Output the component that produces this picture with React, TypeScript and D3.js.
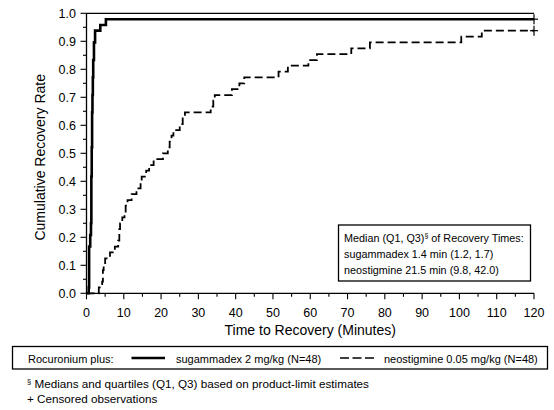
import * as d3 from "d3";

// Kaplan-Meier style cumulative recovery, steps
const sugTimes = [0.6, 0.7, 1.0, 1.2, 1.3, 1.4, 1.5, 1.6, 1.7, 1.8, 2.0, 2.3, 3.7, 5.2];
const sugRates = [0.021, 0.167, 0.208, 0.25, 0.417, 0.521, 0.646, 0.708, 0.771, 0.833, 0.896, 0.938, 0.958, 0.979];

const neoTimes = [
  3.3, 4.2, 4.4, 4.6, 5.0, 6.3, 7.6, 8.5, 8.8, 9.0, 9.6, 10.2, 10.5, 11.0, 12.1,
  13.4, 14.5, 14.8, 16.0, 16.8, 18.0, 20.5, 21.8, 22.3, 22.8, 23.3, 25.0, 25.8,
  26.4, 33.3, 34.0, 34.4, 39.0, 41.0, 42.3, 51.5, 54.0, 59.5, 61.8, 71.0, 76.0,
  100.5, 106.0,
];
const neoRates = [
  0.021, 0.042, 0.083, 0.104, 0.125, 0.146, 0.167, 0.188, 0.229, 0.25, 0.271,
  0.292, 0.313, 0.333, 0.354, 0.375, 0.396, 0.417, 0.438, 0.458, 0.479, 0.5,
  0.521, 0.542, 0.563, 0.583, 0.604, 0.625, 0.646, 0.667, 0.688, 0.708, 0.729,
  0.75, 0.771, 0.792, 0.813, 0.833, 0.854, 0.875, 0.896, 0.917, 0.938,
];

const censorTime = 120;

const xTicks = [0, 10, 20, 30, 40, 50, 60, 70, 80, 90, 100, 110, 120];
const xMinorTicks = [5, 15, 25, 35, 45, 55, 65, 75, 85, 95, 105, 115];
const yTicks = [0, 0.1, 0.2, 0.3, 0.4, 0.5, 0.6, 0.7, 0.8, 0.9, 1.0];
const yMinorTicks = [0.05, 0.15, 0.25, 0.35, 0.45, 0.55, 0.65, 0.75, 0.85, 0.95];

const statLines = [
  "sugammadex 1.4 min (1.2, 1.7)",
  "neostigmine 21.5 min (9.8, 42.0)",
];

const W = 554;
const H = 410;
const FONT = "Arial, 'Liberation Sans', sans-serif";

export default function App() {
  const x = d3.scaleLinear().domain([0, 120]).range([86.5, 534]);
  const y = d3.scaleLinear().domain([0, 1]).range([293.3, 13.3]);

  const toPoints = (times: number[], rates: number[]): [number, number][] => [
    [0, 0],
    ...times.map((t, i) => [t, rates[i]] as [number, number]),
    [censorTime, rates[rates.length - 1]],
  ];

  const line = d3
    .line<[number, number]>()
    .x((d) => x(d[0]))
    .y((d) => y(d[1]))
    .curve(d3.curveStepAfter);

  const sugPts = toPoints(sugTimes, sugRates);
  const neoPts = toPoints(neoTimes, neoRates);

  const censor = (v: number) => {
    const cx = x(censorTime);
    const cy = y(v);
    return (
      <g stroke="#000" strokeWidth={1.2}>
        <line x1={cx - 4} x2={cx + 4} y1={cy} y2={cy} />
        <line x1={cx} x2={cx} y1={cy - 5} y2={cy + 5} />
      </g>
    );
  };

  return (
    <svg
      width={W}
      height={H}
      style={{ position: "absolute", left: 0, top: 0, background: "#fff" }}
      fontFamily={FONT}
    >
      <rect width={W} height={H} fill="#fff" />

      {/* axes frame */}
      <g stroke="#000" strokeWidth={1.3} fill="none">
        <line x1={x(0)} x2={x(0)} y1={y(1)} y2={y(0)} />
        <line x1={x(0)} x2={x(120)} y1={y(0)} y2={y(0)} />
        <line x1={x(0)} x2={x(120)} y1={y(1)} y2={y(1)} />
      </g>

      {/* y ticks */}
      <g stroke="#000" strokeWidth={1.1}>
        {yTicks.map((t) => (
          <line key={t} x1={x(0) - 6} x2={x(0)} y1={y(t)} y2={y(t)} />
        ))}
        {yMinorTicks.map((t) => (
          <line key={t} x1={x(0) - 3.5} x2={x(0)} y1={y(t)} y2={y(t)} />
        ))}
      </g>
      <g fontSize={12.5} textAnchor="end" fill="#000">
        {yTicks.map((t) => (
          <text key={t} x={76} y={y(t)} dy="0.36em">
            {d3.format(".1f")(t)}
          </text>
        ))}
      </g>

      {/* x ticks */}
      <g stroke="#000" strokeWidth={1.1}>
        {xTicks.map((t) => (
          <line key={t} x1={x(t)} x2={x(t)} y1={y(0)} y2={y(0) + 6} />
        ))}
        {xMinorTicks.map((t) => (
          <line key={t} x1={x(t)} x2={x(t)} y1={y(0)} y2={y(0) + 3.5} />
        ))}
      </g>
      <g fontSize={12.5} textAnchor="middle" fill="#000">
        {xTicks.map((t) => (
          <text key={t} x={x(t)} y={316.5}>
            {t}
          </text>
        ))}
      </g>

      <text x={(x(0) + x(120)) / 2} y={335} fontSize={14} textAnchor="middle">
        Time to Recovery (Minutes)
      </text>
      <text
        transform={`translate(45,${(y(0) + y(1)) / 2 + 4}) rotate(-90)`}
        fontSize={14}
        textAnchor="middle"
      >
        Cumulative Recovery Rate
      </text>

      {/* curves */}
      <path d={line(neoPts) ?? ""} fill="none" stroke="#000" strokeWidth={1.8} strokeDasharray="8,4" />
      <path d={line(sugPts) ?? ""} fill="none" stroke="#000" strokeWidth={2.6} />
      {censor(sugRates[sugRates.length - 1])}
      {censor(neoRates[neoRates.length - 1])}

      {/* stats box */}
      <rect x={338.5} y={225} width={192} height={56} fill="#fff" stroke="#000" strokeWidth={1.3} />
      <g fontSize={10.8} fill="#000">
        <text x={344} y={241.5}>
          Median (Q1, Q3)
          <tspan dy={-4} fontSize={7}>§</tspan>
          <tspan dy={4}> of Recovery Times:</tspan>
        </text>
        {statLines.map((s, i) => (
          <text key={s} x={344} y={257.5 + i * 16}>
            {s}
          </text>
        ))}
      </g>

      {/* legend */}
      <rect x={12.5} y={346.5} width={535} height={22.5} fill="#fff" stroke="#000" strokeWidth={1.3} />
      <g fontSize={11} fill="#000">
        <text x={28} y={362.5}>Rocuronium plus:</text>
        <line x1={131.5} x2={165} y1={358} y2={358} stroke="#000" strokeWidth={2.4} />
        <text x={176} y={362.5}>sugammadex 2 mg/kg (N=48)</text>
        <line x1={340} x2={374} y1={358} y2={358} stroke="#000" strokeWidth={1.5} strokeDasharray="9,3.5" />
        <text x={384} y={362.5}>neostigmine 0.05 mg/kg (N=48)</text>
      </g>

      {/* footnotes */}
      <g fontSize={11.7} fill="#000">
        <text x={27} y={388}>
          <tspan fontSize={7.5} dy={-4}>§</tspan>
          <tspan dy={4}> Medians and quartiles (Q1, Q3) based on product-limit estimates</tspan>
        </text>
        <text x={27} y={403}>+ Censored observations</text>
      </g>
    </svg>
  );
}
